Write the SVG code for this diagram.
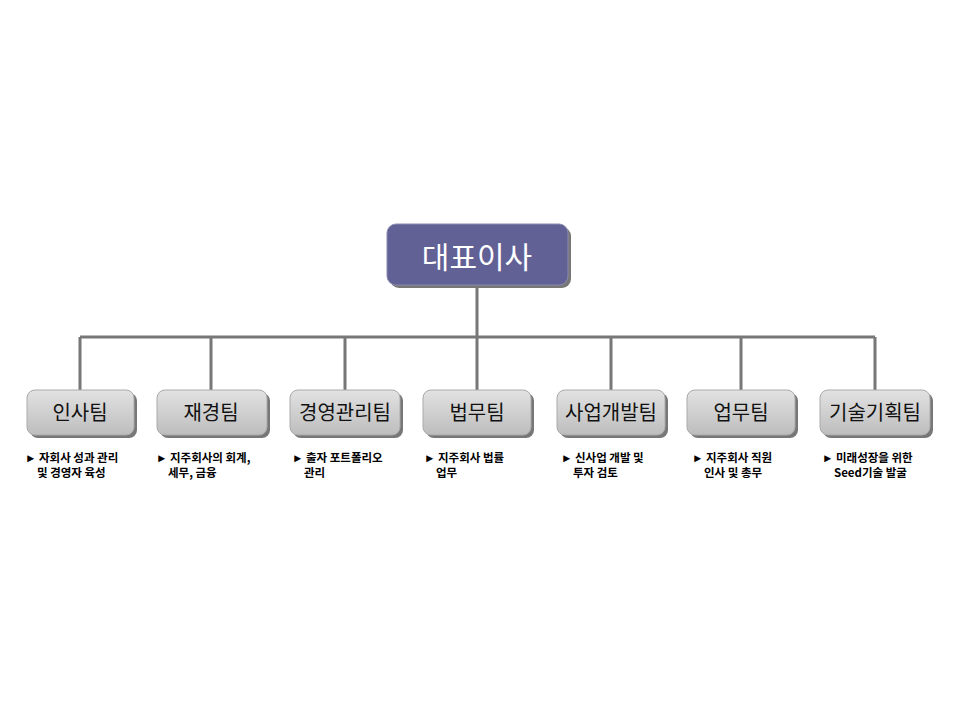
<svg xmlns="http://www.w3.org/2000/svg" width="960" height="720" viewBox="0 0 960 720">
<defs>
<linearGradient id="g" x1="0" y1="0" x2="0" y2="1"><stop offset="0" stop-color="#e2e2e2"/><stop offset="1" stop-color="#bdbdbd"/></linearGradient>
<style>
.box{fill:url(#g);stroke:#aaa;stroke-width:1}
.sh{fill:#777}
.t{font-family:"Noto Sans CJK KR","Noto Sans",sans-serif;font-size:20px;fill:#111;text-anchor:middle}
.d{font-family:"Noto Sans CJK KR","Noto Sans",sans-serif;font-size:11.5px;font-weight:bold;fill:#000}
.c{stroke:#777;stroke-width:3;fill:none}
</style>
</defs>
<rect width="960" height="720" fill="#fff"/>
<g id="connectors">
<path class="c" d="M477 285V337M80 337H875M80 337V390M211 337V390M345 337V390M477 337V390M611 337V390M741 337V390M875 337V390"/>
</g>
<g id="ceo">
<rect x="390" y="227" width="181" height="61" rx="9" class="sh"/>
<rect x="387" y="224" width="181" height="61" rx="9" fill="#626196" stroke="#8a8ab0"/>
<text x="477" y="268" font-family="'Noto Sans CJK KR',sans-serif" font-size="30" fill="#fff" text-anchor="middle">대표이사</text>
</g>
<g id="n1"><rect x="30" y="393" width="107" height="45" rx="8" class="sh"/><rect x="27" y="390" width="107" height="45" rx="8" class="box"/><text class="t" x="80" y="420">인사팀</text>
<text class="d" x="25" y="462">► 자회사 성과 관리</text><text class="d" x="37" y="477">및 경영자 육성</text></g>
<g id="n2"><rect x="160" y="393" width="110" height="45" rx="8" class="sh"/><rect x="157" y="390" width="110" height="45" rx="8" class="box"/><text class="t" x="211" y="420">재경팀</text>
<text class="d" x="156" y="462">► 지주회사의 회계,</text><text class="d" x="168" y="477">세무, 금융</text></g>
<g id="n3"><rect x="293" y="393" width="110" height="45" rx="8" class="sh"/><rect x="290" y="390" width="110" height="45" rx="8" class="box"/><text class="t" x="345" y="420">경영관리팀</text>
<text class="d" x="292" y="462">► 출자 포트폴리오</text><text class="d" x="304" y="477">관리</text></g>
<g id="n4"><rect x="426" y="393" width="108" height="45" rx="8" class="sh"/><rect x="423" y="390" width="108" height="45" rx="8" class="box"/><text class="t" x="477" y="420">법무팀</text>
<text class="d" x="424" y="462">► 지주회사 법률</text><text class="d" x="436" y="477">업무</text></g>
<g id="n5"><rect x="560" y="393" width="108" height="45" rx="8" class="sh"/><rect x="557" y="390" width="108" height="45" rx="8" class="box"/><text class="t" x="611" y="420">사업개발팀</text>
<text class="d" x="561" y="462">► 신사업 개발 및</text><text class="d" x="573" y="477">투자 검토</text></g>
<g id="n6"><rect x="690" y="393" width="108" height="45" rx="8" class="sh"/><rect x="687" y="390" width="108" height="45" rx="8" class="box"/><text class="t" x="741" y="420">업무팀</text>
<text class="d" x="692" y="462">► 지주회사 직원</text><text class="d" x="704" y="477">인사 및 총무</text></g>
<g id="n7"><rect x="823" y="393" width="110" height="45" rx="8" class="sh"/><rect x="820" y="390" width="110" height="45" rx="8" class="box"/><text class="t" x="875" y="420">기술기획팀</text>
<text class="d" x="822" y="462">► 미래성장을 위한</text><text class="d" x="834" y="477">Seed기술 발굴</text></g>
</svg>
